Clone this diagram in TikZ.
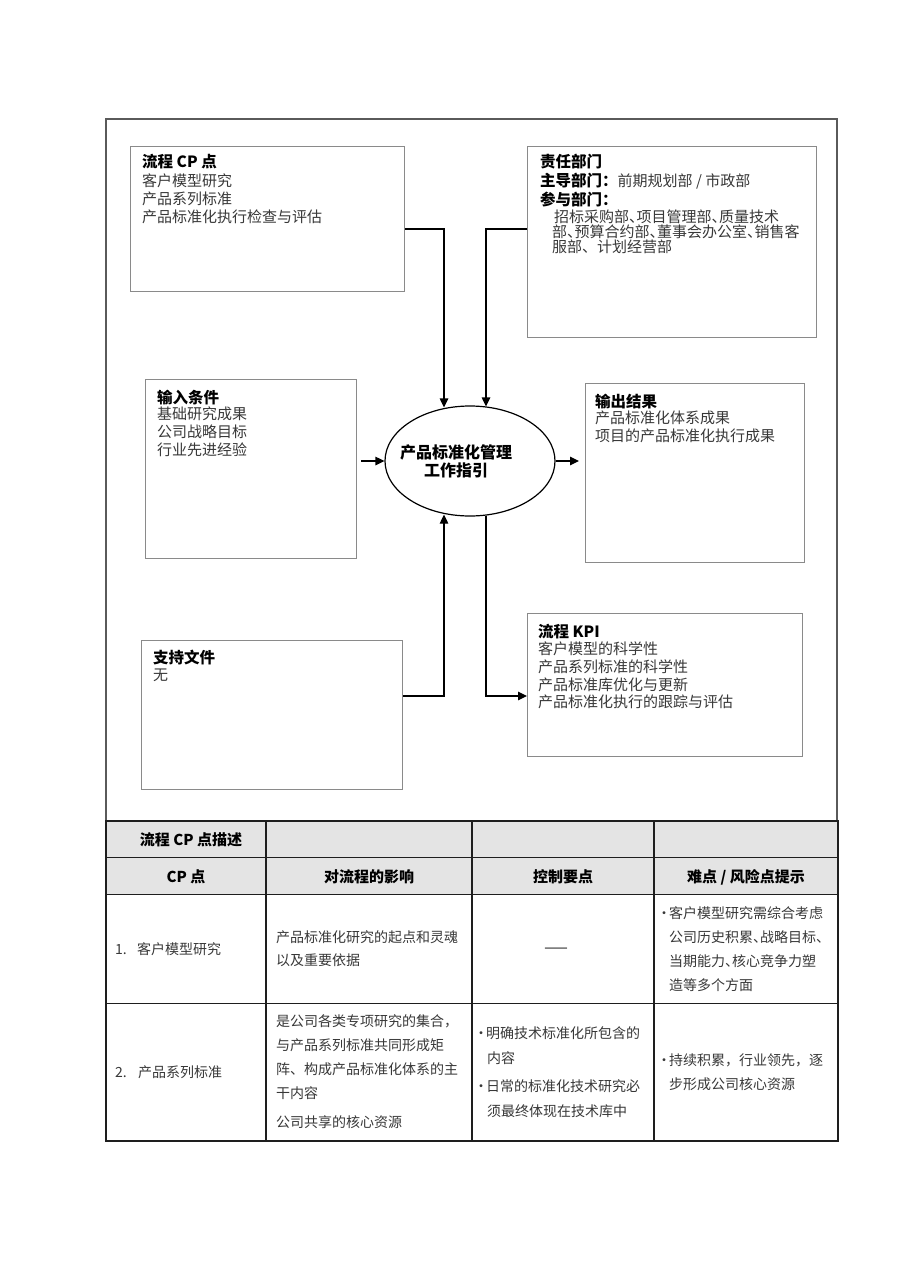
\documentclass[tikz,border=0pt]{standalone}
\usepackage{fontspec}
\setmainfont{Noto Sans CJK SC}
\usetikzlibrary{arrows.meta,shapes.geometric}
\definecolor{boxgray}{HTML}{8A8A8A}
\definecolor{txtgray}{HTML}{383838}
\definecolor{hdrfill}{HTML}{E4E4E4}
\definecolor{framegray}{HTML}{5A5A5A}
\definecolor{tblline}{HTML}{1E1E1E}
\newcommand{\dun}{、\hspace{-0.5em}}
\newcommand{\bul}{\makebox[10pt][c]{•}}
\begin{document}
\begin{tikzpicture}[x=1pt,y=-1pt,
  box/.style={draw=boxgray, line width=1.4pt, inner sep=0pt, anchor=north west},
  conn/.style={draw=black, line width=1.2pt, -{Triangle[length=9pt,width=8.5pt]}},
  hd/.style={anchor=base west, inner sep=0pt, font=\fontsize{15.5}{18}\selectfont\bfseries},
  tx/.style={anchor=base west, inner sep=0pt, text=txtgray, font=\fontsize{15}{17}\selectfont},
  tb/.style={anchor=base west, inner sep=0pt, text=txtgray, font=\fontsize{14}{17}\selectfont},
  th/.style={anchor=base, inner sep=0pt, font=\fontsize{15}{18}\selectfont\bfseries},
  eltx/.style={anchor=base, inner sep=0pt, font=\fontsize{16}{19}\selectfont\bfseries},
]
\useasboundingbox (0,0) rectangle (909,1286);
\fill[white] (0,0) rectangle (909,1286);

% outer frame
\draw[framegray, line width=1.3pt] (106,821) -- (106,119) -- (837,119) -- (837,821);

% boxes
\node[box, minimum width=274pt, minimum height=145pt] (cp) at (130,146) {};
\node[box, minimum width=289pt, minimum height=191pt] (resp) at (527,146) {};
\node[box, minimum width=211pt, minimum height=179pt] (inp) at (145,379) {};
\node[box, minimum width=219pt, minimum height=179pt] (out) at (585,383) {};
\node[box, minimum width=261pt, minimum height=149pt] (sup) at (141,640) {};
\node[box, minimum width=275pt, minimum height=143pt] (kpi) at (527,613) {};
\node[draw=black, line width=1.2pt, ellipse, inner sep=0pt, minimum width=170pt, minimum height=110pt] (ell) at (470,461) {};

% ellipse text
\node[eltx] (ellA) at (456,458) {产品标准化管理};
\node[eltx] (ellB) at (456,476) {工作指引};

% CP box text
\node[hd] (cpH) at (142,167) {流程 CP 点};
\node[tx] (cpL1) at (142,186.5) {客户模型研究};
\node[tx] (cpL2) at (142,204.5) {产品系列标准};
\node[tx] (cpL3) at (142,222.5) {产品标准化执行检查与评估};

% responsibility box text
\node[hd] (respH) at (540,167.5) {责任部门};
\node[tx] (respL1) at (540,186) {{\color{black}\bfseries\fontsize{15.5}{18}\selectfont 主导部门：}前期规划部 / 市政部};
\node[hd] (respL2) at (540,205) {参与部门：};
\node[tx] (respL3) at (554,222) {招标采购部\dun 项目管理部\dun 质量技术};
\node[tx] (respL4) at (552,237.5) {部\dun 预算合约部\dun 董事会办公室\dun 销售客};
\node[tx] (respL5) at (552,252.5) {服部、计划经营部};

% input box text
\node[hd] (inpH) at (157,403.5) {输入条件};
\node[tx] (inpL1) at (157,419.5) {基础研究成果};
\node[tx] (inpL2) at (157,437.5) {公司战略目标};
\node[tx] (inpL3) at (157,455.5) {行业先进经验};

% output box text
\node[hd] (outH) at (595,407) {输出结果};
\node[tx] (outL1) at (595,423.5) {产品标准化体系成果};
\node[tx] (outL2) at (595,441) {项目的产品标准化执行成果};

% support box text
\node[hd] (supH) at (153,663.5) {支持文件};
\node[tx] (supL1) at (153,680.5) {无};

% KPI box text
\node[hd] (kpiH) at (538,637) {流程 KPI};
\node[tx] (kpiL1) at (538,654.5) {客户模型的科学性};
\node[tx] (kpiL2) at (538,672) {产品系列标准的科学性};
\node[tx] (kpiL3) at (538,690) {产品标准库优化与更新};
\node[tx] (kpiL4) at (538,707.5) {产品标准化执行的跟踪与评估};

% connectors
\coordinate (k1) at (444,229);
\coordinate (k2) at (486,229);
\coordinate (k3) at (444,696);
\coordinate (k4) at (486,696);
\draw[conn] (cp.east |- k1) -- (k1) -- ([yshift=-2pt]k1 |- ell.north);
\draw[conn] (resp.west |- k2) -- (k2) -- ([yshift=-1pt]k2 |- ell.north);
\draw[conn] (sup.east |- k3) -- (k3) -- ([yshift=2pt]k3 |- ell.south);
\draw[conn] ([yshift=1pt]k4 |- ell.south) -- (k4) -- (k4 -| kpi.west);
\draw[conn] ([xshift=4pt]inp.east |- ell.west) -- (ell.west);
\draw[conn] (ell.east) -- ([xshift=-6pt]out.west |- ell.east);

% table
\fill[hdrfill] (106,821) rectangle (838,894.5);
\draw[tblline, line width=1.7pt] (106,821) rectangle (838,1141);
\draw[tblline, line width=1.7pt] (106,857.5) -- (838,857.5);
\draw[tblline, line width=1.7pt] (106,894.5) -- (838,894.5);
\draw[tblline, line width=1.7pt] (106,1003.5) -- (838,1003.5);
\draw[tblline, line width=1.7pt] (266,821) -- (266,1141);
\draw[tblline, line width=1.7pt] (472,821) -- (472,1141);
\draw[tblline, line width=1.7pt] (654,821) -- (654,1141);

\node[th] (tH0) at (191,845) {流程 CP 点描述};
\node[th] (tH1) at (186,882) {CP 点};
\node[th] (tH2) at (369,882) {对流程的影响};
\node[th] (tH3) at (563,882) {控制要点};
\node[th] (tH4) at (746,882) {难点 / 风险点提示};

% row 1
\node[tb] (r1c1) at (115,954.3) {\makebox[22pt][l]{1.}客户模型研究};
\node[tb] (r1c2a) at (276,942.3) {产品标准化研究的起点和灵魂};
\node[tb] (r1c2b) at (276,965.3) {以及重要依据};
\node[tb, anchor=base, text=black] (r1c3) at (556,952) {——};
\node[tb] (r1c4a) at (659,918.3) {\bul 客户模型研究需综合考虑};
\node[tb] (r1c4b) at (669,942.3) {公司历史积累\dun 战略目标\dun};
\node[tb] (r1c4c) at (669,966.3) {当期能力\dun 核心竞争力塑};
\node[tb] (r1c4d) at (669,990.3) {造等多个方面};

% row 2
\node[tb] (r2c1) at (115,1077.3) {\makebox[23pt][l]{2.}产品系列标准};
\node[tb] (r2c2a) at (276,1026.3) {是公司各类专项研究的集合，};
\node[tb] (r2c2b) at (276,1050.3) {与产品系列标准共同形成矩};
\node[tb] (r2c2c) at (276,1074.3) {阵、构成产品标准化体系的主};
\node[tb] (r2c2d) at (276,1098.3) {干内容};
\node[tb] (r2c2e) at (276,1127.3) {公司共享的核心资源};
\node[tb] (r2c3a) at (476,1038.3) {\bul 明确技术标准化所包含的};
\node[tb] (r2c3b) at (487,1063.3) {内容};
\node[tb] (r2c3c) at (476,1091.3) {\bul 日常的标准化技术研究必};
\node[tb] (r2c3d) at (487,1116.3) {须最终体现在技术库中};
\node[tb] (r2c4a) at (659,1065.3) {\bul 持续积累，行业领先，逐};
\node[tb] (r2c4b) at (669,1089.3) {步形成公司核心资源};
\end{tikzpicture}
\end{document}
